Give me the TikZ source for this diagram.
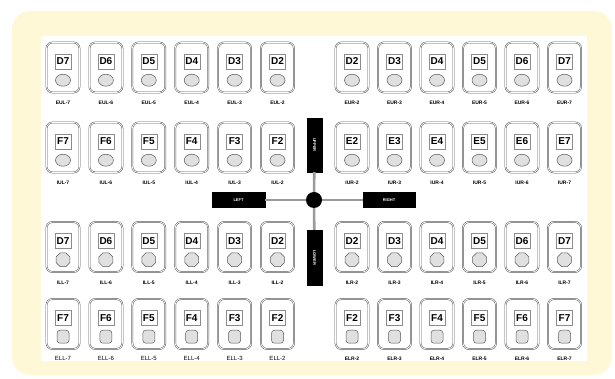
\documentclass[tikz,border=0pt]{standalone}
\usepackage{fontspec}
\setmainfont{Liberation Sans}
\usepackage{xcolor}
\usepackage{tikz}
\usetikzlibrary{positioning,shapes.geometric}
\definecolor{cream}{HTML}{FFF8D6}
\definecolor{rim}{HTML}{5A5A5A}
\definecolor{railgray}{HTML}{9A9A9A}
\tikzset{
  padbox/.style={rectangle, rounded corners=6pt, draw=rim, double=white, double distance=0.7pt,
                 line width=0.5pt, minimum width=33pt, minimum height=50pt, inner sep=0pt},
  keytag/.style={rectangle, draw=black!45, line width=0.4pt, inner sep=0.8pt, minimum width=16pt,
                 minimum height=15pt, font=\fontsize{10}{10}\selectfont\bfseries},
  hole/.style={ellipse, draw=rim, fill=black!12, line width=0.5pt, minimum width=15pt,
               minimum height=12pt, inner sep=0pt},
  holeoct/.style={hole, regular polygon, regular polygon sides=8, minimum size=15pt},
  holesq/.style={hole, rectangle, rounded corners=3pt, minimum width=12pt, minimum height=13pt},
  padlbl/.style={font=\fontsize{5}{5}\selectfont\bfseries, inner sep=0pt},
  plainlbl/.style={font=\fontsize{6}{7}\selectfont, inner sep=0pt},
  bar/.style={rectangle, fill=black, draw=black, text=white, inner sep=0pt,
              font=\fontsize{4}{4}\selectfont\bfseries},
  rail/.style={draw=railgray, line width=2.6pt}
}
\begin{document}
\begin{tikzpicture}[x=1pt, y=1pt]
\useasboundingbox (0,0) rectangle (615,379);

% --- frame
\fill[cream, rounded corners=18pt] (12,4) rectangle (612,368);
\fill[white] (41,18) rectangle (587,343);

% --- left half: columns 7..2
\foreach \row/\yc/\ly/\ch/\tg/\hs in {1/311.5/276/D/EUL/hole, 2/231.5/196/F/IUL/hole, 3/132/96/D/ILL/holeoct}{
  \foreach \n [count=\i from 0] in {7,6,5,4,3,2}{
    \node[padbox] (l\row-\n) at ({63+42.9*\i},\yc) {};
    \node[keytag] at ([yshift=-19pt]l\row-\n.north) {\ch\n};
    \node[\hs] at ([yshift=12.5pt]l\row-\n.south) {};
    \node[padlbl] at ({63+42.9*\i},\ly) {\tg-\n};
  }
}
\foreach \n [count=\i from 0] in {7,6,5,4,3,2}{
  \node[padbox] (l4-\n) at ({63+42.9*\i},55) {};
  \node[keytag] at ([yshift=-19pt]l4-\n.north) {F\n};
  \node[holesq] at ([yshift=12.5pt]l4-\n.south) {};
  \node[plainlbl] at ({63+42.9*\i},21) {ELL-\n};
}

% --- right half: columns 2..7
\foreach \row/\yc/\ly/\ch/\tg/\hs in {1/311.5/276/D/EUR/hole, 2/231.5/196/E/IUR/hole, 3/132/96/D/ILR/holeoct, 4/55/20/F/ELR/holesq}{
  \foreach \n [count=\i from 0] in {2,3,4,5,6,7}{
    \node[padbox] (r\row-\n) at ({352+42.5*\i},\yc) {};
    \node[keytag] at ([yshift=-19pt]r\row-\n.north) {\ch\n};
    \node[\hs] at ([yshift=12.5pt]r\row-\n.south) {};
    \node[padlbl] at ({352+42.5*\i},\ly) {\tg-\n};
  }
}

% --- cross in the middle
\node[circle, fill=black, minimum size=16pt, inner sep=0pt] (hub) at (314,179) {};
\node[bar, minimum width=15pt, minimum height=54pt] (upr) at (314.5,234) {\rotatebox{-90}{UPPER}};
\node[bar, minimum width=15pt, minimum height=55pt] (lwr) at (314.5,121.5) {\rotatebox{-90}{LOWER}};
\node[bar, minimum width=53pt, minimum height=15pt] (lft) at (238.5,179) {LEFT};
\node[bar, minimum width=52pt, minimum height=15pt] (rgt) at (389,179) {RIGHT};

\draw[rail] (lft) -- (hub);
\draw[rail] (hub) -- (rgt);
\draw[rail] (upr) -- (hub);
\draw[rail] (hub) -- (lwr);
\end{tikzpicture}
\end{document}
